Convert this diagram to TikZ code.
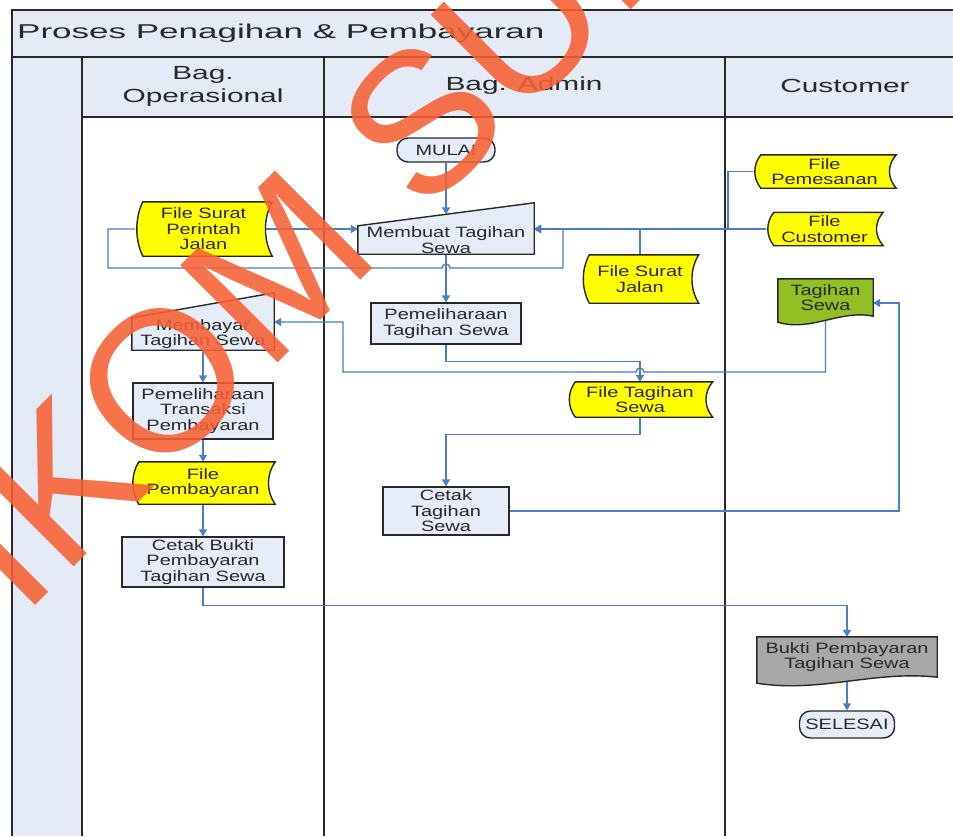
\documentclass[tikz,border=0pt]{standalone}
\usepackage{fontspec}
\setmainfont{Liberation Sans}
\newfontfamily\nodefont[FakeStretch=1.33]{Liberation Sans}
\newfontfamily\headfont[FakeStretch=1.57]{Liberation Sans}
\newfontfamily\titlefont[FakeStretch=1.75]{Liberation Sans}
\usetikzlibrary{arrows.meta,calc}
\pgfdeclarelayer{lanes}
\pgfdeclarelayer{edges}
\pgfdeclarelayer{shapes}
\pgfdeclarelayer{mark}
\pgfsetlayers{lanes,edges,shapes,main,mark}

\definecolor{lanefill}{RGB}{228,234,246}
\definecolor{boxfill}{RGB}{230,236,248}
\definecolor{fileyellow}{RGB}{255,255,0}
\definecolor{docgreen}{RGB}{146,192,34}
\definecolor{docgrey}{RGB}{168,168,168}
\definecolor{flowblue}{RGB}{74,126,200}
\definecolor{markorange}{RGB}{247,96,52}
\definecolor{inkgrey}{RGB}{40,40,40}

\tikzset{
  flowline/.style={draw=flowblue, line width=1.4pt, -{Triangle[length=7pt,width=8pt]}},
  nodetext/.style={font=\nodefont\fontsize{15}{15.5}\selectfont, text=inkgrey, align=center, inner sep=0pt},
  procbox/.style={nodetext, draw=inkgrey, fill=boxfill, line width=1.4pt},
  termbox/.style={procbox, rounded corners=11pt},
  fileshape/.style={draw=black!85, fill=fileyellow, line width=1.4pt},
  inshape/.style={draw=inkgrey, fill=boxfill, line width=1.4pt},
  greendoc/.style={draw=inkgrey, fill=docgreen, line width=1.4pt},
  greydoc/.style={draw=inkgrey, fill=docgrey, line width=1.4pt},
  lanehead/.style={font=\headfont\fontsize{19}{23}\selectfont, text=inkgrey, align=center},
  titletext/.style={font=\titlefont\fontsize{20}{24}\selectfont, text=inkgrey, inner sep=0pt},
  laneline/.style={draw=inkgrey, line width=2pt},
  wmark/.style={font=\fontsize{200}{200}\selectfont, text=markorange, text opacity=0.88, inner sep=0pt},
}

\newcommand{\drawfile}[1]{%
  \filldraw[fileshape] ($(#1.north west)+(8,0)$) -- (#1.north east)
    .. controls ($(#1.north east)!0.3!(#1.south east)+(-9,0)$) and ($(#1.north east)!0.7!(#1.south east)+(-9,0)$) .. (#1.south east)
    -- ($(#1.south west)+(8,0)$)
    .. controls ($(#1.south west)!0.3!(#1.north west)$) and ($(#1.south west)!0.7!(#1.north west)$) .. ($(#1.north west)+(8,0)$) -- cycle;}
\newcommand{\drawinput}[2]{%
  \filldraw[inshape] (#1.north west) -- ($(#1.north east)+(0,-#2)$) -- (#1.south east) -- (#1.south west) -- cycle;}
\newcommand{\drawdoc}[2]{%
  \filldraw[#2] (#1.north west) -- (#1.north east) -- (#1.south east)
    .. controls ($(#1.south east)!0.35!(#1.south west)+(0,-7)$) and ($(#1.south east)!0.65!(#1.south west)+(0,16)$) .. ($(#1.south west)+(0,6)$) -- cycle;}

\begin{document}
\begin{tikzpicture}[x=1pt,y=-1pt]
  \useasboundingbox (0,0) rectangle (953,836);
  \begin{pgfonlayer}{lanes}
    \fill[white] (0,0) rectangle (953,836);
    \fill[lanefill] (12,10) rectangle (953,117);
    \fill[lanefill] (12,117) rectangle (82,836);
    \draw[laneline] (953,10) -- (12,10) -- (12,836);
    \draw[laneline] (12,57) -- (953,57);
    \draw[laneline] (82,117) -- (953,117);
    \foreach \x in {82,324,725}
      \draw[laneline] (\x,57) -- (\x,836);
  \end{pgfonlayer}

  \node[titletext, anchor=west] (title) at (17,33) {Proses Penagihan \& Pembayaran};
  \node[lanehead] (hdops) at (203,86) {Bag.\\Operasional};
  \node[lanehead] (hdadm) at (524,86) {Bag. Admin};
  \node[lanehead] (hdcst) at (845,86) {Customer};

  \node[termbox, minimum width=98pt, minimum height=24pt] (mulai) at (446,150) {MULAI};
  \node[nodetext, minimum width=176pt, minimum height=28pt] (membuat) at (446,240) {Membuat Tagihan\\Sewa};
  \node[procbox, minimum width=150pt, minimum height=41pt] (pemts) at (446,323.5) {Pemeliharaan\\Tagihan Sewa};
  \node[nodetext, minimum width=137pt, minimum height=54pt] (spj) at (203.5,229) {File Surat\\Perintah\\Jalan};
  \node[nodetext, minimum width=117pt, minimum height=48pt] (sj) at (640,279) {File Surat\\Jalan};
  \node[nodetext, minimum width=143pt, minimum height=33pt] (pesan) at (824.5,171.5) {File\\Pemesanan};
  \node[nodetext, minimum width=117pt, minimum height=33pt] (cust) at (824.5,229) {File\\Customer};
  \node[nodetext, minimum width=95pt, minimum height=37pt] (tagihan) at (825.5,297.5) {Tagihan\\Sewa};
  \node[nodetext, minimum width=142pt, minimum height=32pt] (membayar) at (203,334) {Membayar\\Tagihan Sewa};
  \node[procbox, minimum width=140pt, minimum height=56pt] (ptp) at (203,411) {Pemeliharaan\\Transaksi\\Pembayaran};
  \node[nodetext, minimum width=144pt, minimum height=42pt] (fbyr) at (203,483) {File\\Pembayaran};
  \node[procbox, minimum width=162pt, minimum height=50pt] (cbukti) at (203,562) {Cetak Bukti\\Pembayaran\\Tagihan Sewa};
  \node[nodetext, minimum width=145pt, minimum height=35pt] (fts) at (640,399.5) {File Tagihan\\Sewa};
  \node[procbox, minimum width=126pt, minimum height=48pt] (cts) at (446,511) {Cetak\\Tagihan\\Sewa};
  \node[nodetext, minimum width=180pt, minimum height=40pt] (bukti) at (847,657) {Bukti Pembayaran\\Tagihan Sewa};
  \node[termbox, minimum width=95pt, minimum height=27pt] (selesai) at (847,724.5) {SELESAI};

  \begin{pgfonlayer}{shapes}
    \foreach \f in {spj,sj,pesan,cust,fbyr,fts}
      \drawfile{\f};
    \drawinput{membuat}{23}
    \drawinput{membayar}{25}
    \drawdoc{tagihan}{greendoc}
    \drawdoc{bukti}{greydoc}
  \end{pgfonlayer}

  \begin{pgfonlayer}{edges}
    \coordinate (lp1) at (108,268);
    \coordinate (lp2) at (563,268);
    \coordinate (hp1) at (446,268);
    \coordinate (jn) at (728,229);
    \coordinate (rt1) at (343,372);
    \coordinate (rt2) at (343,322);
    \coordinate (hp2) at (640,372);
    \coordinate (rt3) at (899,303);
    \draw[flowline] (mulai.south) -- ([yshift=11.5pt]membuat.north);
    \draw[flowline] ([xshift=-6pt]spj.east) -- (spj.east -| membuat.west);
    \draw[flowline] (spj.west) -| (lp1) -- ($(hp1)+(-4,0)$) arc[start angle=180,end angle=0,radius=4pt] -- (lp2) |- (membuat.east |- jn);
    \draw[flowline] (sj.north) |- (membuat.east |- jn);
    \draw[flowline] (cust.west) -- (membuat.east |- jn);
    \draw[flowline] (pesan.west) -| (jn) -- (membuat.east |- jn);
    \draw[flowline] (membuat.south) -- (pemts.north);
    \draw[flowline] (pemts.south) -- ++(0,17) -| (fts.north);
    \draw[flowline] (tagihan.south) |- ($(hp2)+(4,0)$) arc[start angle=0,end angle=180,radius=4pt] -- (rt1) -- (rt2) -- (rt2 -| membayar.east);
    \draw[flowline] (membayar) -- (ptp);
    \draw[flowline] (ptp) -- (fbyr);
    \draw[flowline] (fbyr) -- (cbukti);
    \draw[flowline] (fts.south) -- ++(0,17) -| (cts.north);
    \draw[flowline] (cts.east) -| (rt3) -- (rt3 -| tagihan.east);
    \draw[flowline] (cbukti.south) -- ++(0,18) -| (bukti.north);
    \draw[flowline] (bukti.south) -- (selesai.north);
  \end{pgfonlayer}

  \begin{pgfonlayer}{mark}
    \node[wmark, anchor=base west, rotate=45] (wm) at (-158,799) {STIKOM SURABAYA};
  \end{pgfonlayer}
\end{tikzpicture}
\end{document}
